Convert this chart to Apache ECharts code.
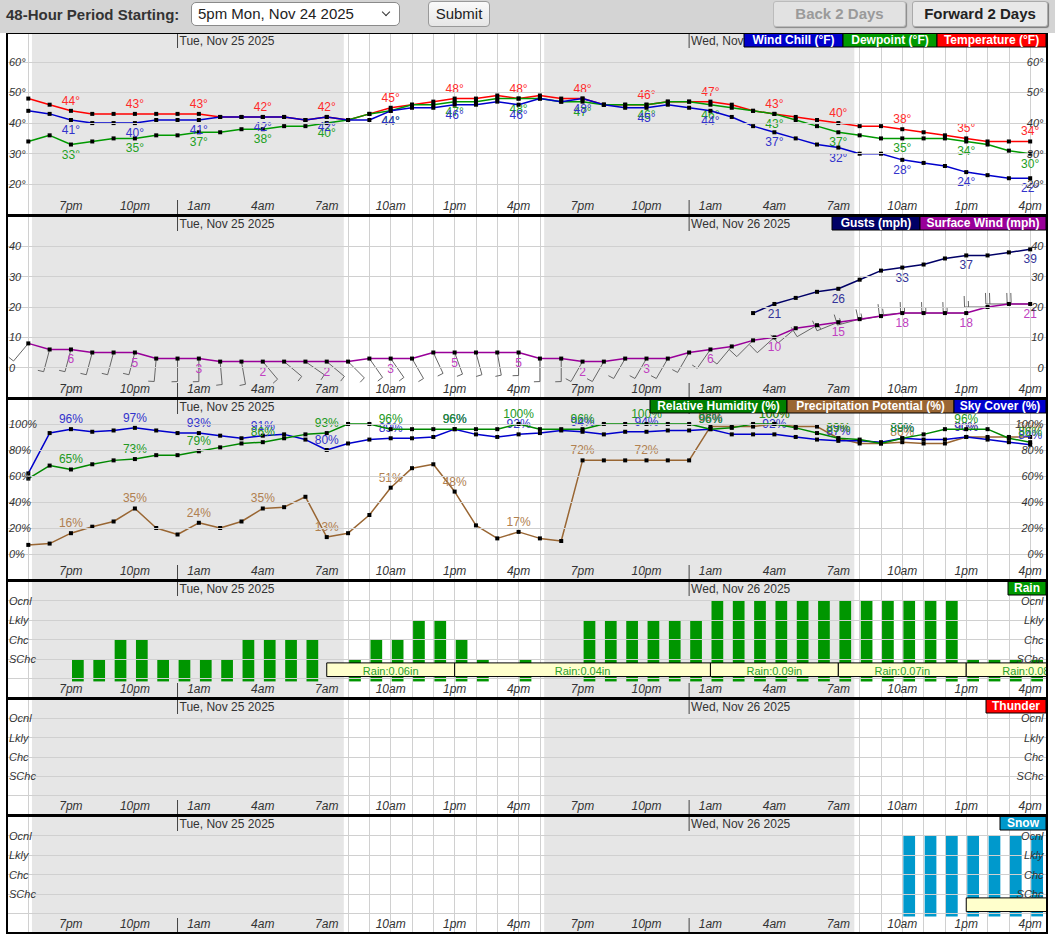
<!DOCTYPE html>
<html>
<head>
<meta charset="utf-8">
<script src="https://cdn.jsdelivr.net/npm/echarts@6/dist/echarts.min.js"></script>
<style>
body { margin: 0; background: #fff; font-family: "Liberation Sans", Arial, sans-serif; }
#main { position: absolute; left: 0; top: 0; width: 1055px; height: 937px; }
#bar { position: absolute; left: 0; top: 0; width: 1055px; height: 33px; background: #d4d4d4; z-index: 2; }
#bar div, #bar span { position: absolute; box-sizing: border-box; }
.lbl { left: 6px; top: 6px; font-weight: bold; font-size: 15px; color: #333; }
.sel { left: 191px; top: 2px; width: 209px; height: 24px; border: 1px solid #8a8a8a; border-radius: 5px; background: #fff; font-size: 15px; line-height: 22px; padding-left: 6px; color: #222; }
.chev { right: 10px; top: 6px; width: 6px; height: 6px; border-right: 1.5px solid #333; border-bottom: 1.5px solid #333; transform: rotate(45deg); }
.btn { top: 1px; height: 26px; border: 1px solid #999; border-radius: 4px; font-size: 15px; line-height: 24px; text-align: center; }
.sub { left: 428px; width: 62px; background: linear-gradient(#fafafa, #e6e6e6); color: #222; }
.back { left: 773px; width: 133px; background: #e2e2e2; color: #9a9a9a; font-weight: bold; border-color: #bbb; box-shadow: 1px 1px 1px #888; border-radius: 3px; }
.fwd { left: 912px; width: 136px; background: #e8e8e8; color: #222; font-weight: bold; border-color: #aaa; box-shadow: 1px 1px 1px #777; border-radius: 3px; }
</style>
</head>
<body>
<div id="bar">
  <span class="lbl">48-Hour Period Starting:</span>
  <div class="sel">5pm Mon, Nov 24 2025<span class="chev"></span></div>
  <div class="btn sub">Submit</div>
  <div class="btn back">Back 2 Days</div>
  <div class="btn fwd">Forward 2 Days</div>
</div>
<div id="main"></div>
<script>
// hourly values, 5pm Mon Nov 24 -> 4pm Wed Nov 26
var timeLabels = ['7pm', '10pm', '1am', '4am', '7am', '10am', '1pm', '4pm', '7pm', '10pm', '1am', '4am', '7am', '10am', '1pm', '4pm'];
var dayLabels = ['Tue, Nov 25 2025', 'Wed, Nov 26 2025'];
var dayStartHour = [7, 31];
var nightSpans = [[0.17, 14.8], [24.2, 38.75]];

var temperature = [48, 46, 44, 43, 43, 43, 43, 43, 43, 42, 42, 42, 42, 41, 42, 41, 43, 45, 46, 47, 48, 48, 49, 48,
    49, 48, 48, 46, 46, 46, 47, 47, 47, 46, 44, 43, 42, 41, 40, 39, 39, 38, 37, 36, 35, 34, 34, 34];
var dewpoint = [34, 36, 33, 34, 35, 35, 36, 36, 37, 37, 38, 38, 39, 39, 40, 41, 43, 44, 46, 46, 47, 47, 48, 48,
    48, 47, 47, 46, 46, 46, 47, 47, 46, 45, 44, 43, 41, 39, 37, 36, 35, 35, 35, 35, 34, 33, 31, 30];
var windChill = [44, 43, 41, 40, 40, 40, 41, 41, 41, 42, 42, 42, 42, 41, 42, 41, 41, 44, 45, 45, 46, 46, 47, 46,
    48, 47, 48, 46, 45, 45, 46, 45, 44, 42, 39, 37, 35, 33, 32, 30, 30, 28, 27, 26, 24, 23, 22, 22];

var surfaceWind = [8, 6, 6, 5, 5, 5, 3, 3, 3, 2, 2, 2, 2, 2, 2, 2, 3, 3, 3, 5, 5, 5, 5, 5,
    3, 3, 2, 2, 3, 3, 3, 5, 6, 7, 9, 10, 13, 14, 15, 16, 17, 18, 18, 18, 18, 20, 21, 21];
var gusts = [null, null, null, null, null, null, null, null, null, null, null, null, null, null, null, null, null,
    null, null, null, null, null, null, null, null, null, null, null, null, null, null, null, null, null,
    18, 21, 23, 25, 26, 29, 32, 33, 34, 36, 37, 37, 38, 39];
var windDir = [220, 195, 195, 195, 195, 195, 185, 180, 180, 175, 170, 140, 130, 125, 130, 135, 145, 145, 150, 155,
    160, 165, 170, 180, 180, 180, 210, 210, 210, 210, 210, 210, 215, 220, 225, 228, 230, 240, 248, 255,
    260, 265, 270, 270, 270, 270, 270, 270];

var skyCover = [62, 93, 96, 94, 95, 97, 95, 93, 93, 91, 89, 91, 92, 88, 80, 85, 88, 89, 89, 90, 96, 92, 90, 92,
    93, 95, 94, 92, 94, 94, 95, 95, 96, 92, 92, 92, 90, 88, 87, 87, 86, 89, 88, 88, 90, 88, 86, 84];
var humidity = [58, 68, 65, 69, 72, 73, 76, 76, 79, 82, 85, 86, 89, 92, 93, 100, 100, 96, 96, 96, 96, 96, 96, 100,
    96, 96, 96, 100, 100, 100, 100, 100, 96, 97, 100, 100, 97, 93, 89, 88, 85, 89, 92, 96, 96, 96, 89, 86];
var precipPot = [7, 8, 16, 21, 25, 35, 20, 15, 24, 20, 25, 35, 36, 44, 13, 16, 30, 51, 66, 69, 48, 22, 12, 17,
    12, 10, 72, 72, 72, 72, 72, 72, 98, 98, 98, 100, 98, 98, 89, 85, 85, 86, 85, 85, 90, 90, 90, 90];

// 0 none, 1 SChc, 2 Chc, 3 Lkly, 4 Ocnl
var levelNames = ['SChc', 'Chc', 'Lkly', 'Ocnl'];
var rain = [0, 0, 1, 1, 2, 2, 1, 1, 1, 1, 2, 2, 2, 2, 0, 1, 2, 2, 3, 3, 2, 1, 0, 1,
    0, 0, 3, 3, 3, 3, 3, 3, 4, 4, 4, 4, 4, 4, 4, 4, 4, 4, 4, 4, 1, 1, 1, 1];
var snow = [0, 0, 0, 0, 0, 0, 0, 0, 0, 0, 0, 0, 0, 0, 0, 0, 0, 0, 0, 0, 0, 0, 0, 0,
    0, 0, 0, 0, 0, 0, 0, 0, 0, 0, 0, 0, 0, 0, 0, 0, 0, 4, 4, 4, 4, 4, 4, 4];
var rainQpfStart = [14, 20, 32, 38, 44];
var rainQpfEnd = [20, 32, 38, 44, 50];
var rainQpfText = ['Rain:0.06in', 'Rain:0.04in', 'Rain:0.09in', 'Rain:0.07in', 'Rain:0.08in'];
var snowQpfStart = [44];
var snowQpfEnd = [50];

var GRIDC = '#d0d0d0';
var FONT = '"Liberation Sans", Arial, sans-serif';
var panels = [
    { top: 33, height: 182 },
    { top: 216, height: 182 },
    { top: 399, height: 181 },
    { top: 581, height: 117 },
    { top: 699, height: 116 },
    { top: 816, height: 117 }
];

function pts(arr) {
    return arr.map(function (v, i) { return [i + 1, v]; });
}

function everyThird(suffix) {
    return function (p) {
        if (p.dataIndex % 3 !== 2 || p.value[1] == null) return '';
        return p.value[1] + suffix;
    };
}

function levelFmt(v) {
    return (v >= 1 && v <= 4) ? levelNames[v - 1] : '';
}

var yCfg = [
    { min: 10, max: 69.4, step: 10, fmt: function (v) { return (v >= 20 && v <= 60) ? v + '°' : ''; } },
    { min: -10, max: 50, step: 10, fmt: function (v) { return (v >= 0 && v <= 40) ? '' + v : ''; } },
    { min: -20, max: 119.2, step: 20, fmt: function (v) { return (v >= 0 && v <= 100) ? v + '%' : ''; } },
    { min: -1, max: 5, step: 1, fmt: levelFmt },
    { min: -1, max: 5, step: 1, fmt: levelFmt },
    { min: -1, max: 5, step: 1, fmt: levelFmt }
];

var grids = [], xAxes = [], labelAxes = [], yAxes = [], series = [];
panels.forEach(function (pn, g) {
    grids.push({ left: 7, width: 1044.5, top: pn.top, height: pn.height, containLabel: false });
    // x axis for the data + hour grid lines
    xAxes.push({
        gridIndex: g, type: 'value', min: 0, max: 49, interval: 3,
        axisLine: { show: false }, axisTick: { show: false }, axisLabel: { show: false },
        splitLine: { show: true, lineStyle: { color: GRIDC, width: 1 } },
        minorTick: { show: false, splitNumber: 3 },
        minorSplitLine: { show: true, lineStyle: { color: GRIDC, width: 1 } }
    });
    // second x axis only for the hour labels, kept above the night shading
    labelAxes.push({
        gridIndex: g, type: 'value', min: 0, max: 49, interval: 3, z: 10, position: 'bottom',
        axisLine: { show: false }, axisTick: { show: false }, splitLine: { show: false },
        axisLabel: {
            inside: true, margin: 3, fontStyle: 'italic', fontSize: 12, color: '#333', fontFamily: FONT,
            formatter: function (v) {
                var k = v / 3 - 1;
                return (Number.isInteger(k) && k >= 0 && k < timeLabels.length) ? timeLabels[k] : '';
            }
        }
    });
    ['left', 'right'].forEach(function (pos) {
        yAxes.push({
            gridIndex: g, type: 'value', position: pos, z: 10,
            min: yCfg[g].min, max: yCfg[g].max, interval: yCfg[g].step,
            axisLine: { show: false }, axisTick: { show: false },
            splitLine: { show: pos === 'left', lineStyle: { color: GRIDC, width: 1 } },
            axisLabel: {
                inside: true, margin: pos === 'left' ? 2 : 8, fontStyle: 'italic', fontSize: 11,
                color: '#333', fontFamily: FONT, formatter: yCfg[g].fmt
            }
        });
    });
    // night shading
    series.push({
        type: 'line', xAxisIndex: g, yAxisIndex: g * 2, data: [], z: -1, silent: true,
        markArea: {
            silent: true, itemStyle: { color: '#e6e6e6' }, label: { show: false },
            data: nightSpans.map(function (n) { return [{ xAxis: n[0] + 1 }, { xAxis: n[1] + 1 }]; })
        }
    });
});

function lineSeries(g, data, color, labelColor, pos, suffix, z) {
    return {
        type: 'line', xAxisIndex: g, yAxisIndex: g * 2, data: pts(data), z: z || 3,
        symbol: 'rect', symbolSize: 4, showAllSymbol: true, animation: false,
        lineStyle: { color: color, width: 1.5 },
        itemStyle: { color: '#000' },
        emphasis: { disabled: true },
        label: {
            show: true, position: pos, distance: 2, color: labelColor, fontSize: 12, fontFamily: FONT,
            formatter: everyThird(suffix)
        }
    };
}

// temperature panel
series.push(lineSeries(0, temperature, '#ff0000', '#ff2a2a', 'top', '°', 3));
series.push(lineSeries(0, dewpoint, '#009900', '#22a022', 'bottom', '°', 4));
series.push(lineSeries(0, windChill, '#0000cc', '#3333cc', 'bottom', '°', 5));

// wind panel: barbs
function renderBarb(params, api) {
    var x = api.value(0), spd = api.value(1), dir = api.value(2);
    var p = api.coord([x, spd]);
    var r = dir * Math.PI / 180;
    var ux = Math.sin(r), uy = -Math.cos(r);
    var L = 23;
    var tip = [p[0] + ux * L, p[1] + uy * L];
    var a = 88 * Math.PI / 180;
    var fx = ux * Math.cos(a) - uy * Math.sin(a);
    var fy = ux * Math.sin(a) + uy * Math.cos(a);
    var n5 = Math.max(1, Math.round(spd * 0.869 / 5));
    var full = Math.floor(n5 / 2), half = n5 % 2;
    var st = { stroke: '#666', lineWidth: 1, fill: null };
    var kids = [{ type: 'line', shape: { x1: p[0], y1: p[1], x2: tip[0], y2: tip[1] }, style: st }];
    var d = 0;
    for (var i = 0; i < full; i++) {
        var bx = tip[0] - ux * d, by = tip[1] - uy * d;
        kids.push({ type: 'line', shape: { x1: bx, y1: by, x2: bx + fx * 11, y2: by + fy * 11 }, style: st });
        d += 4;
    }
    if (half) {
        var hx = tip[0] - ux * d, hy = tip[1] - uy * d;
        kids.push({ type: 'line', shape: { x1: hx, y1: hy, x2: hx + fx * 6, y2: hy + fy * 6 }, style: st });
    }
    return { type: 'group', children: kids };
}
series.push({
    type: 'custom', xAxisIndex: 1, yAxisIndex: 2, z: 2, silent: true,
    encode: { x: 0, y: 1 },
    data: surfaceWind.map(function (v, i) { return [i + 1, v, windDir[i]]; }),
    renderItem: renderBarb
});
series.push(lineSeries(1, surfaceWind, '#990099', '#c040c0', 'bottom', '', 3));
series.push(lineSeries(1, gusts, '#000066', '#333399', 'bottom', '', 4));

// humidity panel
series.push(lineSeries(2, precipPot, '#996633', '#b08050', 'top', '%', 3));
series.push(lineSeries(2, skyCover, '#0000cc', '#3333cc', 'top', '%', 4));
series.push(lineSeries(2, humidity, '#008800', '#229922', 'top', '%', 5));

// weather bars
function barRenderer(color) {
    return function (params, api) {
        var lv = api.value(1);
        if (!lv) return null;
        var a = api.coord([api.value(0) + 0.05, lv]);
        var b = api.coord([api.value(0) + 0.6, -0.15]);
        return { type: 'rect', shape: { x: a[0], y: a[1], width: b[0] - a[0], height: b[1] - a[1] }, style: { fill: color } };
    };
}
function qpfRenderer(texts) {
    return function (params, api) {
        var a = api.coord([api.value(0), 0.8]);
        var b = api.coord([api.value(1), 0.1]);
        var kids = [{
            type: 'rect', shape: { x: a[0], y: a[1], width: b[0] - a[0], height: b[1] - a[1] },
            style: { fill: '#ffffcc', stroke: '#000', lineWidth: 1 }
        }];
        if (texts) {
            kids.push({
                type: 'text', style: {
                    text: texts[params.dataIndex], x: (a[0] + b[0]) / 2, y: (a[1] + b[1]) / 2 + 1,
                    align: 'center', verticalAlign: 'middle', fill: '#2aa02a', font: '11px ' + FONT
                }
            });
        }
        return { type: 'group', children: kids };
    };
}
series.push({
    type: 'custom', xAxisIndex: 3, yAxisIndex: 6, z: 2, silent: true, clip: true,
    encode: { x: 0, y: 1 }, data: pts(rain), renderItem: barRenderer('#009600')
});
series.push({
    type: 'custom', xAxisIndex: 3, yAxisIndex: 6, z: 3, silent: true, clip: true,
    encode: { x: [0, 1] },
    data: rainQpfStart.map(function (s, i) { return [s + 1, rainQpfEnd[i] + 1]; }),
    renderItem: qpfRenderer(rainQpfText)
});
series.push({
    type: 'custom', xAxisIndex: 5, yAxisIndex: 10, z: 2, silent: true, clip: true,
    encode: { x: 0, y: 1 }, data: pts(snow), renderItem: barRenderer('#0099cc')
});
series.push({
    type: 'custom', xAxisIndex: 5, yAxisIndex: 10, z: 3, silent: true, clip: true,
    encode: { x: [0, 1] },
    data: snowQpfStart.map(function (s, i) { return [s + 1, snowQpfEnd[i] + 1]; }),
    renderItem: qpfRenderer(null)
});

var chart = echarts.init(document.getElementById('main'), null, { renderer: 'svg' });
chart.setOption({
    animation: false,
    textStyle: { fontFamily: FONT },
    grid: grids,
    xAxis: xAxes.concat(labelAxes),
    yAxis: yAxes,
    series: series
});

// overlays: borders, date marks, legend boxes
var legends = [
    [['Wind Chill (°F)', '#0000cc', 744, 99], ['Dewpoint (°F)', '#009900', 843, 94], ['Temperature (°F)', '#ff0000', 937, 109]],
    [['Gusts (mph)', '#000066', 832, 88], ['Surface Wind (mph)', '#990099', 920, 126]],
    [['Relative Humidity (%)', '#008000', 650, 137], ['Precipitation Potential (%)', '#996633', 787, 167], ['Sky Cover (%)', '#0000cc', 954, 92]],
    [['Rain', '#009900', 1008, 38]],
    [['Thunder', '#ff0000', 986, 60]],
    [['Snow', '#0099cc', 1000, 46]]
];
var gfx = [];
gfx.push({ type: 'rect', z: 99, silent: true, shape: { x: 1048, y: 33, width: 7, height: 904 }, style: { fill: '#fff' } });
panels.forEach(function (pn, g) {
    var bottom = pn.top + pn.height;
    dayStartHour.forEach(function (h, k) {
        var x = chart.convertToPixel({ xAxisIndex: g }, h + 1);
        gfx.push({ type: 'line', z: 50, silent: true, shape: { x1: x, y1: pn.top, x2: x, y2: pn.top + 15 }, style: { stroke: '#444', lineWidth: 1 } });
        gfx.push({ type: 'line', z: 50, silent: true, shape: { x1: x, y1: bottom - 15, x2: x, y2: bottom }, style: { stroke: '#444', lineWidth: 1 } });
        gfx.push({ type: 'text', z: 50, silent: true, x: x + 2, y: pn.top + 2, style: { text: dayLabels[k], font: '12px ' + FONT, fill: '#333' } });
    });
    legends[g].forEach(function (lg) {
        gfx.push({ type: 'rect', z: 60, silent: true, shape: { x: lg[2], y: pn.top, width: lg[3], height: 14 }, style: { fill: lg[1], stroke: '#000', lineWidth: 1 } });
        gfx.push({ type: 'text', z: 61, silent: true, x: lg[2] + lg[3] / 2, y: pn.top + 7, style: { text: lg[0], font: 'bold 12px ' + FONT, fill: '#fff', align: 'center', verticalAlign: 'middle' } });
    });
    gfx.push({ type: 'rect', z: 100, silent: true, shape: { x: 7, y: pn.top, width: 1040, height: pn.height }, style: { fill: null, stroke: '#000', lineWidth: 2 } });
});
chart.setOption({ graphic: gfx });
</script>
</body>
</html>
